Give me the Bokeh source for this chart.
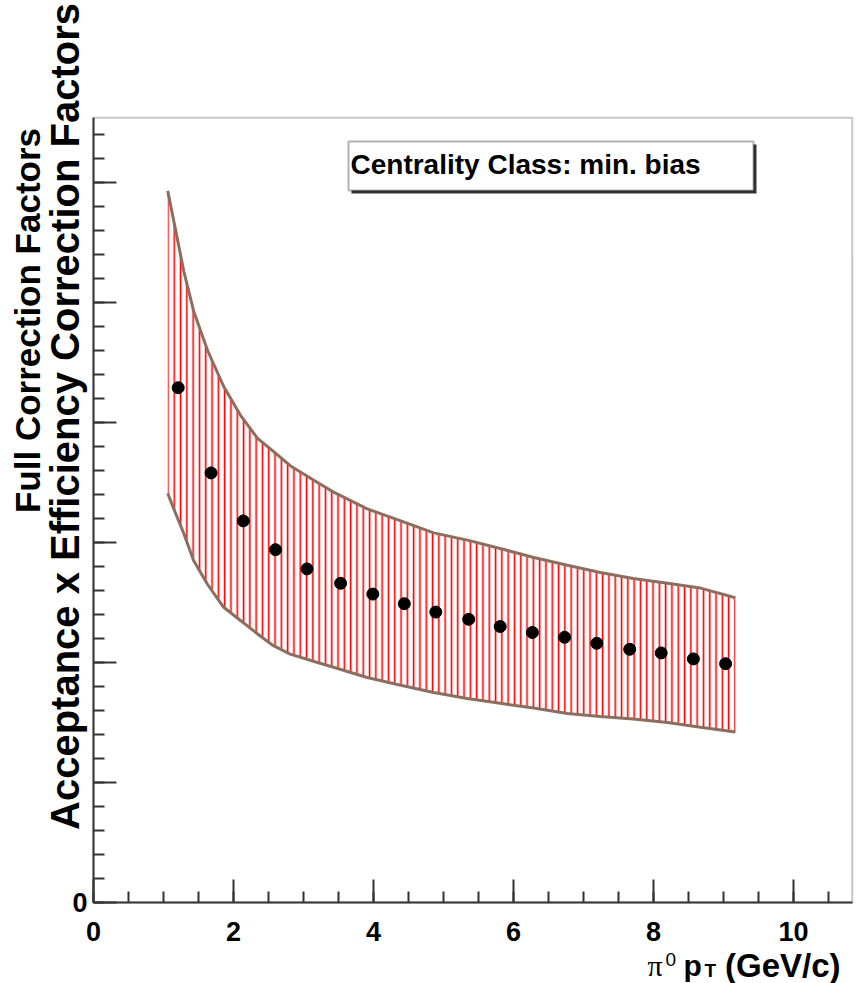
import numpy as np
from bokeh.plotting import figure
from bokeh.models import Label, BoxAnnotation, FixedTicker, Range1d, CustomJSTickFormatter
from bokeh.embed import file_html
from bokeh.resources import INLINE

# ---- data ----
pt = [1.21, 1.68, 2.14, 2.60, 3.05, 3.53, 3.99, 4.44, 4.89, 5.36,
      5.81, 6.27, 6.73, 7.19, 7.66, 8.11, 8.57, 9.03]
factor = [4.29, 3.58, 3.18, 2.94, 2.78, 2.66, 2.57, 2.49, 2.42, 2.36,
          2.30, 2.25, 2.21, 2.16, 2.11, 2.08, 2.03, 1.99]

band_pt = [1.06, 1.14, 1.29, 1.43, 1.63, 1.86, 2.10, 2.34, 2.57, 2.81,
           3.20, 3.43, 3.91, 4.39, 4.86, 5.34, 5.81, 6.29, 6.77, 7.24,
           7.71, 8.20, 8.67, 9.17]
band_hi = [5.93, 5.70, 5.26, 4.93, 4.60, 4.30, 4.06, 3.87, 3.76, 3.64,
           3.50, 3.42, 3.28, 3.18, 3.08, 3.02, 2.95, 2.875, 2.81, 2.75,
           2.70, 2.66, 2.62, 2.54]
band_lo = [3.41, 3.29, 3.075, 2.85, 2.65, 2.46, 2.35, 2.24, 2.14, 2.07,
           2.00, 1.96, 1.875, 1.81, 1.75, 1.70, 1.66, 1.62, 1.575, 1.55,
           1.53, 1.50, 1.46, 1.42]

x_ticks = [0, 2, 4, 6, 8, 10]
y_ticks = [0, 1, 2, 3, 4, 5, 6]
x_minor = [i * 0.5 for i in range(22)]
y_minor = [i * 0.2 for i in range(33)]
x_max = 10.84
y_max = 6.54

box_text = "Centrality Class: min. bias"
y_title_small = "Full Correction Factors"
y_title_big = "Acceptance x Efficiency Correction Factors"

FONT = "Liberation Sans"

# pixel geometry of the reference frame
W, H = 856, 983
FL, FB = 93, 902          # frame left / bottom pixel
SX, SY = 70.0, 120.0      # pixels per unit


def X(px):
    return (px - FL) / SX


def Y(py):
    return (FB - py) / SY


p = figure(width=W, height=H, x_range=Range1d(X(0), X(W)), y_range=Range1d(Y(H), Y(0)),
           output_backend="svg", toolbar_location=None, min_border=0)
p.background_fill_color = "white"
p.border_fill_color = "white"
p.grid.visible = False
p.outline_line_color = None

for ax in (p.xaxis[0], p.yaxis[0]):
    ax.fixed_location = 0
    ax.axis_line_color = "#333333"
    ax.axis_line_width = 2
    ax.major_tick_line_color = "#333333"
    ax.minor_tick_line_color = "#333333"
    ax.major_tick_line_width = 2
    ax.minor_tick_line_width = 2
    ax.major_tick_in = 23
    ax.major_tick_out = 0
    ax.minor_tick_in = 11
    ax.minor_tick_out = 0
    ax.major_label_text_font = FONT
    ax.major_label_text_font_style = "bold"
    ax.major_label_text_font_size = "27px"
    ax.major_label_text_color = "black"

p.xaxis[0].bounds = (0, x_max)
p.yaxis[0].bounds = (0, y_max)
p.xaxis[0].ticker = FixedTicker(ticks=x_ticks, minor_ticks=x_minor)
p.yaxis[0].ticker = FixedTicker(ticks=y_ticks, minor_ticks=y_minor)
p.xaxis[0].major_label_standoff = 19
p.yaxis[0].major_label_standoff = 6
p.yaxis[0].formatter = CustomJSTickFormatter(code="return tick == 0 ? '0' : '';")

# frame box (top and right edges)
p.add_layout(BoxAnnotation(left=0, right=x_max, bottom=0, top=y_max, fill_alpha=0,
                           line_color="#444444", line_width=2))

# hatched systematic band
p.varea(x=band_pt, y1=band_lo, y2=band_hi, fill_alpha=0,
        hatch_pattern="|", hatch_color="#ff0000", hatch_scale=6.3, hatch_weight=1.6)
p.line(band_pt, band_hi, line_color="#8c6e5f", line_width=3)
p.line(band_pt, band_lo, line_color="#8c6e5f", line_width=3)

# points
p.scatter(pt, factor, size=12, color="black")

# legend-like box with shadow
p.add_layout(BoxAnnotation(left=X(351), right=X(756), top=Y(144), bottom=Y(193),
                           fill_color="#333333", fill_alpha=1, line_alpha=0))
p.add_layout(BoxAnnotation(left=X(348), right=X(753), top=Y(141), bottom=Y(190),
                           fill_color="white", fill_alpha=1, line_color="black", line_width=2))
p.add_layout(Label(x=X(350), y=Y(164), text=box_text, text_font=FONT, text_font_style="bold",
                   text_font_size="28px", text_baseline="alphabetic", text_color="black"))

# y titles (rotated)
p.add_layout(Label(x=X(64), y=Y(416), angle=np.pi / 2,
                   text=y_title_big, text_font=FONT, text_font_style="bold", text_color="black",
                   text_font_size="40px", text_align="center", text_baseline="alphabetic"))
p.add_layout(Label(x=X(27), y=Y(320), angle=np.pi / 2,
                   text=y_title_small, text_font=FONT, text_font_style="bold", text_color="black",
                   text_font_size="35px", text_align="center", text_baseline="alphabetic"))

# x title: pi^0 p_T (GeV/c)
p.add_layout(Label(x=X(647), y=Y(965), text="π", text_color="black",
                   text_font="Liberation Serif", text_font_size="30px", text_baseline="alphabetic"))
p.add_layout(Label(x=X(665), y=Y(959), text="0", text_color="black",
                   text_font=FONT, text_font_size="19px", text_baseline="alphabetic"))
p.add_layout(Label(x=X(683), y=Y(965), text="p", text_color="black",
                   text_font=FONT, text_font_style="bold", text_font_size="30px", text_baseline="alphabetic"))
p.add_layout(Label(x=X(704), y=Y(970), text="T", text_color="black",
                   text_font=FONT, text_font_style="bold", text_font_size="19px", text_baseline="alphabetic"))
p.add_layout(Label(x=X(840), y=Y(965), text="(GeV/c)", text_align="right", text_color="black",
                   text_font=FONT, text_font_style="bold", text_font_size="33px", text_baseline="alphabetic"))

open("out.html", "w").write(file_html(p, INLINE))
